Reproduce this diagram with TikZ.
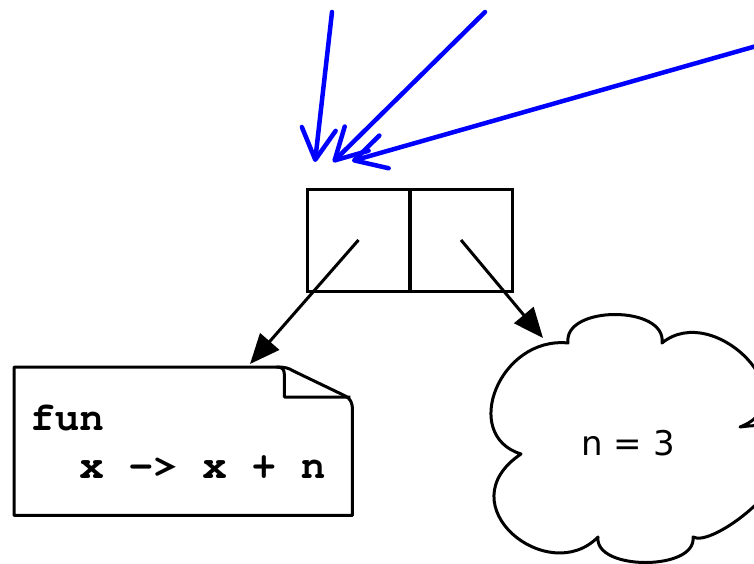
\documentclass[tikz,border=0pt]{standalone}
\usepackage[T1]{fontenc}
\usepackage{fontspec}
\setmainfont{Liberation Sans}
\newfontfamily\cloudfont{DejaVu Sans}
\newcommand{\courierbold}{\fontencoding{T1}\fontfamily{pcr}\fontseries{b}\selectfont}
\newcommand{\cs}{\hphantom{x}}
\usetikzlibrary{arrows.meta,calc}
\begin{document}
\begin{tikzpicture}[x=1pt,y=-1pt,
  cell/.style={draw, line width=3pt, minimum width=103pt, minimum height=102pt, inner sep=0pt},
  ptr/.style={line width=3pt, -{Triangle[length=30pt,width=25pt]}},
  refarrow/.style={draw=blue, line width=4.5pt, line cap=round, -{Straight Barb[round,length=31pt,width=34pt]}},
  outline/.style={line width=3pt, line join=round},
  codebox/.style={minimum width=338pt, minimum height=148pt, inner xsep=16pt, inner ysep=0pt,
    text width=306pt, align=left,
    font={\courierbold\fontsize{41}{48}\selectfont}},
  cloudtext/.style={font={\cloudfont\fontsize{34}{40}\selectfont}}
]
\useasboundingbox (0,0) rectangle (754,564);

% cons cell
\node[cell] (lc) at (358.5,240) {};
\node[cell] (rc) at (461,240) {};

% closure note
\node[codebox, anchor=north west] (note) at (14,367) {fun\\\cs\cs x\cs->\cs x\cs+\cs n};
\draw[outline]
  (note.south west) -- (note.north west) -- ($(note.north east)+(-76,0)$)
  .. controls ($(note.north east)+(-67,0)$) and ($(note.north east)+(-64,1)$) .. ($(note.north east)+(-59,4)$)
  -- ($(note.north east)+(-7,29)$)
  .. controls ($(note.north east)+(-2,32)$) and (note.north east |- 0,402) .. (note.north east |- 0,410)
  -- (note.south east) -- cycle;
\draw[outline]
  ($(note.north east)+(-76,0)$) .. controls ($(note.north east)+(-69,0)$) and ($(note.north east)+(-68,3)$) .. ($(note.north east)+(-68,9)$)
  -- ($(note.north east)+(-68,30)$) -- ($(note.north east)+(-2,30)$);

% environment cloud
\draw[outline, fill=white]
  (568,343) .. controls (563,305) and (667,305) .. (662,343)
  .. controls (715,300) and (810,400) .. (740,427)
  .. controls (790,420) and (800,440) .. (775,455)
  .. controls (800,480) and (712,548) .. (693,537)
  .. controls (697,571) and (594,571) .. (598,537)
  .. controls (548,588) and (445,505) .. (521,454)
  .. controls (460,435) and (500,336) .. (568,343) -- cycle;
\node[cloudtext] (cloud) at (628,443.5) {n = 3};

% pointers
\draw[ptr] (lc.center) -- ($(note.north west)+(236,-3)$);
\draw[ptr] (rc.center) -- ($(cloud.center)+(-85,-105.5)$);

% references
\coordinate (s1) at (332,12);
\coordinate (s2) at (485,12);
\coordinate (s3) at (760,45);
\coordinate (t1) at (315,162);
\coordinate (t2) at (333,162);
\coordinate (t3) at (352,161);
\draw[refarrow] (s1) -- (t1);
\draw[refarrow] (s2) -- (t2);
\draw[refarrow] (s3) -- (t3);
\end{tikzpicture}
\end{document}
